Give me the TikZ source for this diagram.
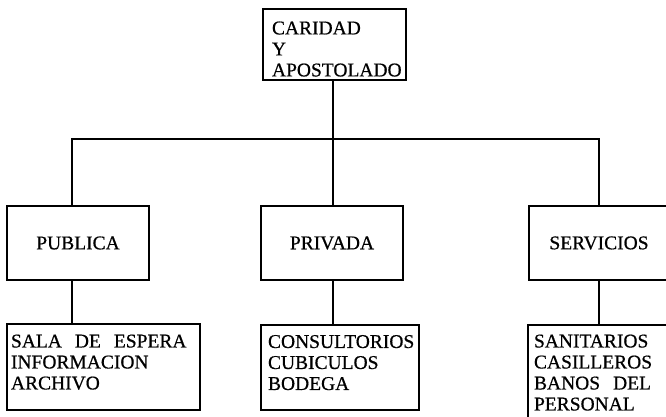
\documentclass[tikz,border=0pt]{standalone}
\usepackage{fontspec}
\setmainfont{Liberation Serif}[UprightFeatures={FakeBold=0.6}]
\usepackage{tikz}
\usetikzlibrary{positioning,calc}

\tikzset{
	orgbox/.style={draw,line width=1.1pt,anchor=north west,outer sep=0pt,align=left,
		font=\fontsize{19.5}{21}\selectfont},
	headbox/.style={orgbox,minimum width=143,minimum height=71,inner xsep=9pt},
	areabox/.style={orgbox,align=center,minimum width=142,minimum height=74},
	listbox/.style={orgbox,inner xsep=#1},
	link/.style={line width=1.1pt}
}
\newcommand{\dropline}[1]{\rule[-#1pt]{0pt}{#1pt}}

\begin{document}
\begin{tikzpicture}[x=1pt,y=-1pt]
		\path[use as bounding box] (0,0) rectangle (666,416);
		\clip (0,0) rectangle (666,416);
		\node[headbox,text width=125pt] (caridad) at (263,9) {\rule{0pt}{22pt}CARIDAD\\Y\\APOSTOLADO};
		\node[areabox] (publica) at (7,206) {PUBLICA};
		\node[areabox] (privada) at (261,206) {PRIVADA};
		\node[areabox,minimum width=140] (servicios) at (529,206) {SERVICIOS};
		\node[listbox=0pt,minimum width=193,minimum height=86,text width=185pt] (sala) at (7,324)
			{SALA~ DE~ ESPERA\\INFORMACION\\ARCHIVO\dropline{10}};
		\node[listbox=6pt,minimum width=158,minimum height=85,text width=144pt] (consultorios) at (261,325)
			{CONSULTORIOS\\CUBICULOS\\BODEGA\dropline{10}};
		\node[listbox=5pt,minimum width=162,minimum height=110,text width=150pt] (sanitarios) at (528,325)
			{SANITARIOS\\CASILLEROS\\BANOS\ \ DEL\\PERSONAL\dropline{15}};
		\coordinate (bus) at (333,139);
		\coordinate (busL) at (72,139);
		\coordinate (busR) at (599,139);
		\draw[link] (caridad.south -| bus) -- (bus);
		\draw[link] (busL |- publica.north) -- (busL) -- (busR) -- (busR |- servicios.north);
		\draw[link] (bus) -- (bus |- privada.north);
		\draw[link] (busL |- publica.south) -- (busL |- sala.north);
		\draw[link] (bus |- privada.south) -- (bus |- consultorios.north);
		\draw[link] (busR |- servicios.south) -- (busR |- sanitarios.north);
	\end{tikzpicture}
\end{document}
